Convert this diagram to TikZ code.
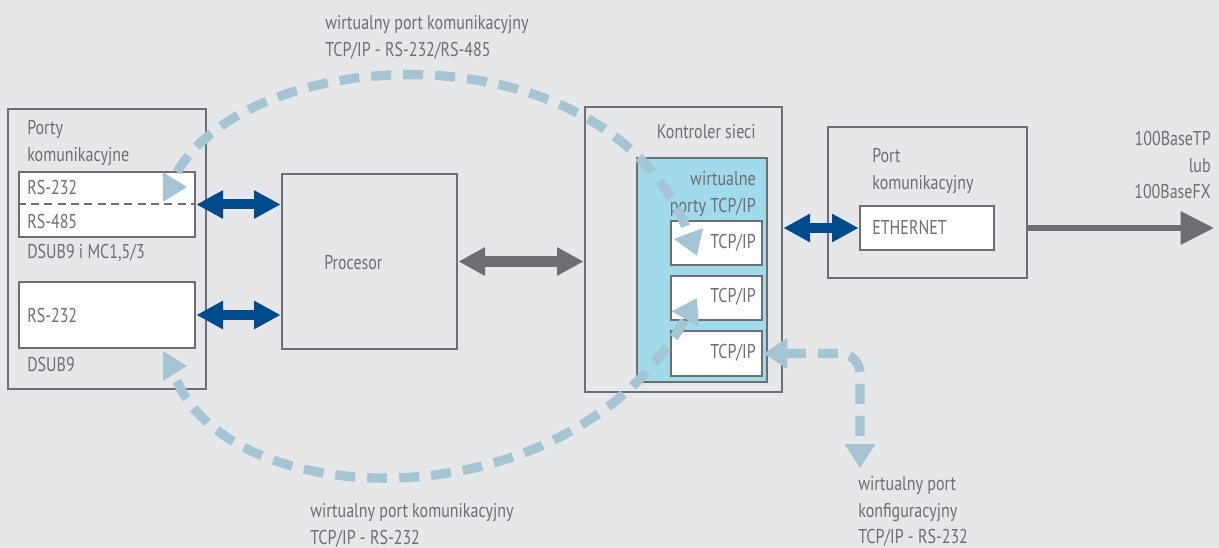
\documentclass[tikz,border=0pt]{standalone}
\usepackage{fontspec}
\setmainfont[FakeStretch=0.8]{PT Sans}
\usetikzlibrary{arrows.meta}
\usetikzlibrary{fit}
\definecolor{bggray}{HTML}{E6E7E9}
\definecolor{linegray}{HTML}{6D6E71}
\definecolor{darkblue}{HTML}{004A8D}
\definecolor{dashblue}{HTML}{A5C4D4}
\definecolor{cyanfill}{HTML}{A1DAEA}

\begin{document}
\begin{tikzpicture}[x=0.75pt,y=-0.75pt,
  box/.style={draw=linegray,line width=2pt,inner sep=0pt},
  txt/.style={text=linegray,inner sep=0pt,font=\fontsize{15}{20}\selectfont},
  bluearrow/.style={{Triangle[length=20pt,width=20pt]}-{Triangle[length=20pt,width=20pt]},
                    line width=7.5pt,darkblue},
  grayarrow/.style={{Triangle[length=20pt,width=20pt]}-{Triangle[length=20pt,width=20pt]},
                    line width=8pt,linegray},
  virtual/.style={line width=7pt,dashblue,dash pattern=on 15pt off 9pt},
  vtip/.style={-{Triangle[length=18pt,width=22pt]},line width=1pt,dashblue}]

% background
\fill [bggray] (0,0) rectangle (1219,548);

% boxes
\node [box,fit={(8,109) (206,389)}] (porty) {};
\node [box,fill=white,fit={(19,172) (195,237)}] (rsbox) {};
\node [box,fill=white,fit={(19,282) (195,348)}] (rsb) {};
\node [box,fit={(282,174) (457,349)}] (proc) {};
\node [box,fit={(585,107) (782,392)}] (kontroler) {};
\node [box,fill=cyanfill,fit={(637,158) (767,382)}] (wirt) {};
\node [box,fill=white,fit={(671,221) (762,265)}] (tcpa) {};
\node [box,fill=white,fit={(671,276) (762,320)}] (tcpb) {};
\node [box,fill=white,fit={(671,331) (762,376)}] (tcpc) {};
\node [box,fit={(828,127) (1027,278)}] (port) {};
\node [box,fill=white,fit={(860,206) (994,250)}] (ethernet) {};

\draw [linegray,line width=1.5pt,dash pattern=on 6pt off 4pt]
      (rsbox.west) -- (rsbox.east);

% texts
\node [txt,anchor=north west,align=left] (tporty) at (27,120) {Porty\\komunikacyjne};
\node [txt,anchor=west] (t232a) at (27,188) {RS-232};
\node [txt,anchor=west] (t485) at (27,222) {RS-485};
\node [txt,anchor=west] (tdsuba) at (27,253) {DSUB9 i MC1,5/3};
\node [txt,anchor=west] (t232b) at (27,316) {RS-232};
\node [txt,anchor=west] (tdsubb) at (27,365) {DSUB9};
\node [txt,anchor=west] (tproc) at (324,263) {Procesor};
\node [txt,anchor=east] (tkontr) at (756,132) {Kontroler sieci};
\node [txt,anchor=north east,align=right] (twirt) at (756,171) {wirtualne\\porty TCP/IP};
\node [txt,anchor=east] (ttcpa) at (756,243) {TCP/IP};
\node [txt,anchor=east] (ttcpb) at (756,297) {TCP/IP};
\node [txt,anchor=east] (ttcpc) at (756,353) {TCP/IP};
\node [txt,anchor=north west,align=left] (tport) at (872,148) {Port\\komunikacyjny};
\node [txt,anchor=west] (teth) at (872,228) {ETHERNET};
\node [txt,anchor=north east,align=right] (tbase) at (1211,131) {100BaseTP\\lub\\100BaseFX};
\node [txt,anchor=north west,align=left] (ttop) at (325,15)
      {wirtualny port komunikacyjny\\TCP/IP - RS-232/RS-485};
\node [txt,anchor=north west,align=left] (tbot) at (310,503)
      {wirtualny port komunikacyjny\\TCP/IP - RS-232};
\node [txt,anchor=north west,align=left] (tcfg) at (858,476)
      {wirtualny port\\konfiguracyjny\\TCP/IP - RS-232};

% connections
\draw [bluearrow] (rsbox.east) -- (rsbox.east -| proc.west);
\draw [bluearrow] (rsb.east) -- (rsb.east -| proc.west);
\draw [grayarrow] (proc.east) -- (proc.east -| kontroler.west);
\draw [bluearrow] (ethernet.west -| kontroler.east) -- (ethernet.west);
\coordinate (net) at (1214,228);
\draw [-{Triangle[length=25pt,width=24pt]},line width=4.5pt,linegray]
      (port.east |- net) -- (net);

% virtual ports
\coordinate (vatop) at (177,172);
\coordinate (vaend) at (697,256);
\draw [virtual,-{Triangle[length=18pt,width=22pt]}]
      (vatop) .. controls (255,40) and (610,25) .. (vaend);
\draw [vtip] (163,187) -- (187,187);

\coordinate (vbbot) at (177,381);
\coordinate (vbend) at (697,298);
\draw [virtual,-{Triangle[length=18pt,width=22pt]}]
      (vbbot) .. controls (235,515) and (570,525) .. (vbend);
\draw [vtip] (163,366) -- (187,366);

\coordinate (cfg) at (860,468);
\draw [virtual,rounded corners=15pt,
       {Triangle[length=18pt,width=22pt]}-{Triangle[length=18pt,width=22pt]}]
      (tcpc.east) -| (cfg);

\end{tikzpicture}
\end{document}
